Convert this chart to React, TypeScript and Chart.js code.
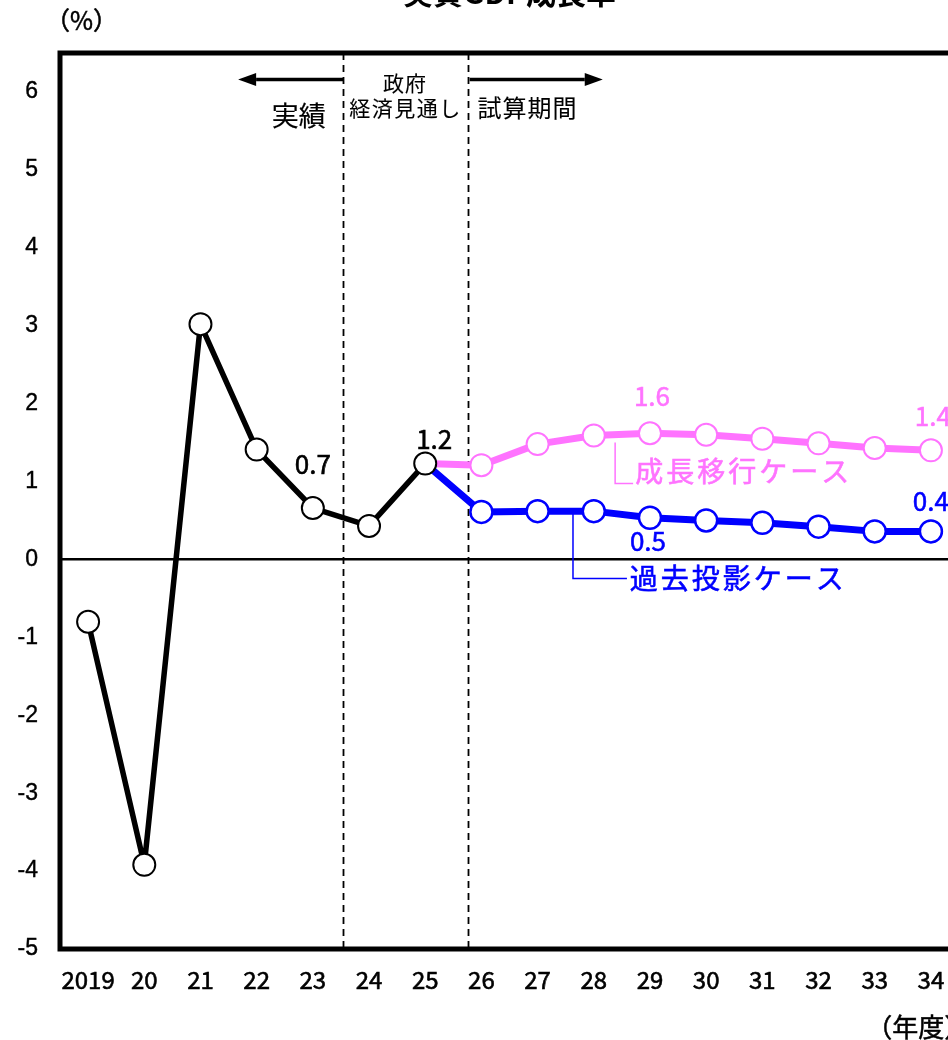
import React, { useEffect, useRef } from "react";
import { Chart, registerables } from "chart.js";

Chart.register(...registerables);

// ---- data ----
const years = ["2019", "20", "21", "22", "23", "24", "25", "26", "27", "28", "29", "30", "31", "32", "33", "34"];
const actualAndOutlook = [-0.8, -3.92, 3.02, 1.41, 0.66, 0.43, 1.23, null, null, null, null, null, null, null, null, null];
const growthCase = [null, null, null, null, null, null, 1.23, 1.21, 1.48, 1.59, 1.62, 1.6, 1.55, 1.49, 1.43, 1.4];
const pastCase = [null, null, null, null, null, null, 1.23, 0.61, 0.62, 0.62, 0.535, 0.5, 0.47, 0.42, 0.36, 0.36];
const yMin = -5;
const yMax = 6.5;
const yStep = 1;

const TITLE = "実質GDP成長率";
const Y_UNIT = "（%）";
const X_UNIT = "（年度）";
const GROWTH_NAME = "成長移行ケース";
const PAST_NAME = "過去投影ケース";

const PINK = "#FF73FF";
const BLUE = "#0000FF";
const BLACK = "#000000";
const JP = '"Noto Sans CJK JP", "Noto Sans", sans-serif';
const NUM = '"Liberation Sans", Arial, sans-serif';

function txt(ctx: any, s: string, x: number, y: number, font: string, color: string, align: string = "center", spacing = 0, stroke = 0.5) {
  ctx.save();
  ctx.font = font;
  ctx.fillStyle = color;
  ctx.strokeStyle = color;
  ctx.lineWidth = stroke;
  ctx.textAlign = align;
  ctx.textBaseline = "middle";
  try { ctx.letterSpacing = spacing + "px"; } catch (e) {}
  ctx.fillText(s, x, y);
  if (stroke > 0) ctx.strokeText(s, x, y);
  ctx.restore();
}

function arrow(ctx: any, x1: number, tip: number, y: number) {
  const dir = Math.sign(tip - x1);
  const head = 18;
  const hw = 6.5;
  ctx.save();
  ctx.strokeStyle = BLACK;
  ctx.fillStyle = BLACK;
  ctx.lineWidth = 3.5;
  ctx.beginPath();
  ctx.moveTo(x1, y);
  ctx.lineTo(tip - dir * head, y);
  ctx.stroke();
  ctx.beginPath();
  ctx.moveTo(tip, y);
  ctx.lineTo(tip - dir * head, y - hw);
  ctx.lineTo(tip - dir * head, y + hw);
  ctx.closePath();
  ctx.fill();
  ctx.restore();
}

const decorPlugin = {
  id: "decor",
  beforeDatasetsDraw(chart: any) {
    const { ctx, chartArea, scales } = chart;
    const x = scales.x;
    ctx.save();
    ctx.strokeStyle = BLACK;
    ctx.lineWidth = 1.8;
    ctx.setLineDash([7, 5]);
    for (const d of [4.54, 6.76]) {
      const px = Math.round(x.getPixelForValue(d)) + 0.5;
      ctx.beginPath();
      ctx.moveTo(px, chartArea.top);
      ctx.lineTo(px, chartArea.bottom);
      ctx.stroke();
    }
    ctx.restore();
  },
  afterDatasetsDraw(chart: any) {
    const { ctx, chartArea, scales } = chart;
    const x = scales.x;
    const y = scales.y;
    const px = (i: number) => x.getPixelForValue(i);
    const py = (v: number) => y.getPixelForValue(v);

    // frame
    ctx.save();
    ctx.strokeStyle = BLACK;
    ctx.lineWidth = 5;
    ctx.strokeRect(chartArea.left, chartArea.top, chartArea.right - chartArea.left, chartArea.bottom - chartArea.top);
    ctx.restore();

    // title & units
    const cx = (chartArea.left + chartArea.right) / 2;
    ctx.save();
    ctx.font = `bold 30px ${JP}`;
    ctx.fillStyle = BLACK;
    ctx.textAlign = "center";
    ctx.textBaseline = "alphabetic";
    ctx.fillText(TITLE, cx, chartArea.top - 49);
    ctx.restore();
    txt(ctx, Y_UNIT, chartArea.left - 15, chartArea.top - 33, `25px ${JP}`, BLACK, "left");
    txt(ctx, X_UNIT, px(14.15) - 17, chartArea.bottom + 78, `26px ${JP}`, BLACK, "left");

    // period arrows and captions
    const ay = py(6.16);
    arrow(ctx, px(4.54), px(2.67), ay);
    arrow(ctx, px(6.79), px(9.16), ay);
    txt(ctx, "実績", px(3.75), py(5.69), `27px ${JP}`, BLACK, "center", 0, 0.2);
    txt(ctx, "政府", px(5.64), py(6.12), `21px ${JP}`, BLACK, "center", 1, 0.1);
    txt(ctx, "経済見通し", px(5.65), py(5.79), `21px ${JP}`, BLACK, "center", 1.5, 0.1);
    txt(ctx, "試算期間", px(7.82), py(5.8), `24px ${JP}`, BLACK, "center", 1, 0.1);

    // data labels
    const lab = (arr: any[], i: number, dx: number, dy: number, color: string) => {
      const v = arr[i] as number;
      txt(ctx, v.toFixed(1), px(i) + dx, py(v) + dy, `26px ${JP}`, color, "center", 0, 0.6);
    };
    lab(actualAndOutlook, 4, 0, -44, BLACK);
    lab(actualAndOutlook, 6, 9, -24, BLACK);
    lab(growthCase, 10, 2, -37, PINK);
    lab(growthCase, 15, 2, -34, PINK);
    lab(pastCase, 15, 0, -30, BLUE);
    lab(pastCase, 10, -2, 23, BLUE);

    // series name callouts
    ctx.save();
    ctx.lineWidth = 1.5;
    ctx.strokeStyle = PINK;
    ctx.beginPath();
    ctx.moveTo(px(9.38), py(1.5));
    ctx.lineTo(px(9.38), py(0.976));
    ctx.lineTo(px(9.7), py(0.976));
    ctx.stroke();
    ctx.strokeStyle = BLUE;
    ctx.beginPath();
    ctx.moveTo(px(8.63), py(0.603));
    ctx.lineTo(px(8.63), py(-0.244));
    ctx.lineTo(px(9.59), py(-0.244));
    ctx.stroke();
    ctx.restore();
    txt(ctx, GROWTH_NAME, px(9.74), py(1.13), `28px ${JP}`, PINK, "left", 3, 0.6);
    txt(ctx, PAST_NAME, px(9.64), py(-0.244), `28px ${JP}`, BLUE, "left", 3, 0.6);
  },
};

export default function App() {
  const ref = useRef<HTMLCanvasElement | null>(null);

  useEffect(() => {
    if (!ref.current) return;
    const pointR = (ctx: any) => (ctx.dataIndex === 6 ? 0 : 11);
    const chart = new Chart(ref.current, {
      type: "line",
      data: {
        labels: years,
        datasets: [
          {
            data: actualAndOutlook,
            borderColor: BLACK,
            borderWidth: 5.5,
            pointRadius: 11,
            pointBorderWidth: 2,
            pointBackgroundColor: "#fff",
            pointBorderColor: BLACK,
            borderJoinStyle: "round",
            order: 0,
          },
          {
            data: growthCase,
            borderColor: PINK,
            borderWidth: 7,
            pointRadius: pointR,
            pointBorderWidth: 2,
            pointBackgroundColor: "#fff",
            pointBorderColor: PINK,
            borderJoinStyle: "round",
            order: 1,
          },
          {
            data: pastCase,
            borderColor: BLUE,
            borderWidth: 7,
            pointRadius: pointR,
            pointBorderWidth: 2.5,
            pointBackgroundColor: "#fff",
            pointBorderColor: BLUE,
            borderJoinStyle: "round",
            order: 2,
          },
        ],
      },
      options: {
        animation: false,
        responsive: false,
        devicePixelRatio: 1,
        layout: { padding: { top: 83, left: 0, right: 51, bottom: 0 } },
        plugins: { legend: { display: false }, title: { display: false }, tooltip: { enabled: false } },
        scales: {
          x: {
            type: "category",
            offset: true,
            grid: { display: false, drawTicks: false },
            border: { display: false },
            ticks: {
              color: BLACK,
              font: { family: JP, size: 24 },
              padding: 16,
              maxRotation: 0,
              autoSkip: false,
              textStrokeColor: BLACK,
              textStrokeWidth: 0.6,
            },
            afterFit: (s: any) => { s.height = 91; },
          },
          y: {
            min: yMin,
            max: yMax,
            grid: {
              drawTicks: false,
              color: (c: any) => (c.tick && c.tick.value === 0 ? BLACK : "rgba(0,0,0,0)"),
              lineWidth: 2.5,
            },
            border: { display: false },
            ticks: {
              stepSize: yStep,
              includeBounds: false,
              color: BLACK,
              font: { family: NUM, size: 23 },
              padding: 22,
              textStrokeColor: BLACK,
              textStrokeWidth: 0.4,
            },
            afterFit: (s: any) => { s.width = 60; },
          },
        },
      } as any,
      plugins: [decorPlugin],
    });
    return () => chart.destroy();
  }, []);

  return (
    <div style={{ position: "fixed", left: 0, top: 0, width: 948, height: 1040, overflow: "hidden", background: "#fff" }}>
      <canvas ref={ref} width={1010} height={1070} style={{ position: "absolute", left: 0, top: -30, width: 1010, height: 1070 }} />
    </div>
  );
}
